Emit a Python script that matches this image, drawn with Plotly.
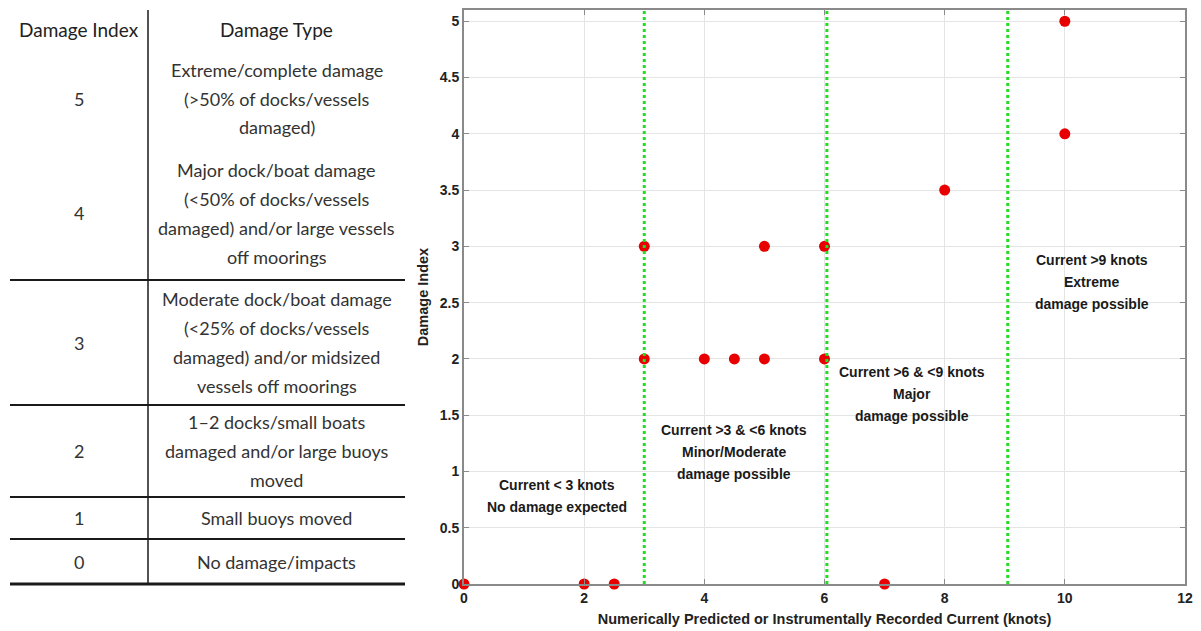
import plotly.graph_objects as go

# ---------------- data ----------------
damage_index = [5, 4, 3, 2, 1, 0]
damage_type = [
    ["Extreme/complete damage", "(>50% of docks/vessels", "damaged)"],
    ["Major dock/boat damage", "(<50% of docks/vessels", "damaged) and/or large vessels", "off moorings"],
    ["Moderate dock/boat damage", "(<25% of docks/vessels", "damaged) and/or midsized", "vessels off moorings"],
    ["1\u20132 docks/small boats", "damaged and/or large buoys", "moved"],
    ["Small buoys moved"],
    ["No damage/impacts"],
]
table_header = ["Damage Index", "Damage Type"]

current_knots = [0, 2, 2.5, 3, 3, 4, 4.5, 5, 5, 6, 6, 7, 8, 10, 10]
observed_index = [0, 0, 0, 3, 2, 2, 2, 2, 3, 3, 2, 0, 3.5, 4, 5]

thresholds = [3.0, 6.04, 9.05]
zone_labels = [
    ["Current < 3 knots", "No damage expected"],
    ["Current >3 & <6 knots", "Minor/Moderate", "damage possible"],
    ["Current >6 & <9 knots", "Major", "damage possible"],
    ["Current >9 knots", "Extreme", "damage possible"],
]
zone_label_x = [1.55, 4.5, 7.45, 10.45]
zone_label_top_y = [0.88, 1.37, 1.88, 2.88]

W, H = 1201, 631
Y0PX, Y1PX = 584, 10
YMAX = 5.1


def px(x):
    return x / W


def py(y):
    return 1 - y / H


fig = go.Figure()

fig.add_trace(go.Scatter(
    x=current_knots, y=observed_index, mode="markers",
    marker=dict(color="#e80000", size=11, line=dict(width=0)),
    cliponaxis=False, showlegend=False, hoverinfo="x+y",
))

for t in thresholds:
    fig.add_vline(x=t, line=dict(color="#22dd22", width=3, dash="dot"))

annotations = []
zfont = dict(family="Liberation Sans", size=14, color="#1a1a1a", weight="bold")
unit_px = (Y0PX - Y1PX) / YMAX
for lines, xx, ytop in zip(zone_labels, zone_label_x, zone_label_top_y):
    for k, ln in enumerate(lines):
        annotations.append(dict(
            x=xx, y=ytop - k * 22 / unit_px, xref="x", yref="y", text=ln, showarrow=False,
            font=zfont, xanchor="center", yanchor="middle",
        ))

# ---------------- table ----------------
tfont = dict(family="Lato", size=18, color="#333333")
hfont = dict(family="Lato", size=19, color="#222222")
t_left, t_right, t_div = 10, 405, 148
t_lines = [10, 50, 147, 280, 405, 497, 539, 584]
t_widths = [2.2, 2.6, 1.8, 1.8, 1.8, 1.8, 1.8, 3.0]
shapes = []
for yl, wl in zip(t_lines, t_widths):
    shapes.append(dict(type="line", xref="paper", yref="paper",
                       x0=px(t_left), x1=px(t_right), y0=py(yl), y1=py(yl),
                       line=dict(color="#1a1a1a", width=wl)))
shapes.append(dict(type="line", xref="paper", yref="paper",
                   x0=px(t_div), x1=px(t_div), y0=py(t_lines[0]), y1=py(t_lines[-1]),
                   line=dict(color="#1a1a1a", width=1.5)))

idx_cx = (t_left + t_div) / 2
typ_cx = (t_div + t_right) / 2
hdr_cy = (t_lines[0] + t_lines[1]) / 2
annotations.append(dict(x=px(idx_cx), y=py(hdr_cy), xref="paper", yref="paper",
                        text=table_header[0], showarrow=False, font=hfont,
                        xanchor="center", yanchor="middle"))
annotations.append(dict(x=px(typ_cx), y=py(hdr_cy), xref="paper", yref="paper",
                        text=table_header[1], showarrow=False, font=hfont,
                        xanchor="center", yanchor="middle"))
line_h = 28.7
for i, (di, lines) in enumerate(zip(damage_index, damage_type)):
    top, bot = t_lines[i + 1], t_lines[i + 2]
    cy = (top + bot) / 2
    annotations.append(dict(x=px(idx_cx), y=py(cy), xref="paper", yref="paper",
                            text=str(di), showarrow=False, font=tfont,
                            xanchor="center", yanchor="middle"))
    n = len(lines)
    for k, ln in enumerate(lines):
        yy = cy + (k - (n - 1) / 2) * line_h
        annotations.append(dict(x=px(typ_cx), y=py(yy), xref="paper", yref="paper",
                                text=ln, showarrow=False, font=tfont,
                                xanchor="center", yanchor="middle"))

axis_font = dict(family="Liberation Sans", size=14, color="#222222", weight="bold")
title_font = dict(family="Liberation Sans", size=14.5, color="#222222", weight="bold")
fig.update_layout(
    width=W, height=H,
    margin=dict(l=0, r=0, t=0, b=0, autoexpand=False),
    paper_bgcolor="white", plot_bgcolor="white",
    shapes=shapes, annotations=annotations,
    xaxis=dict(
        domain=[px(464), px(1185)], range=[0, 12], dtick=2,
        showgrid=True, gridcolor="#e4e4e4", gridwidth=1,
        zeroline=False, showline=True, linecolor="#8a8a8a", linewidth=2,
        mirror="ticks", ticks="inside", ticklen=5, tickcolor="#8a8a8a",
        tickfont=axis_font, automargin=False,
        title=dict(text="Numerically Predicted or Instrumentally Recorded Current (knots)",
                   font=title_font, standoff=9),
    ),
    yaxis=dict(
        domain=[py(Y0PX), py(Y1PX)], range=[0, YMAX], dtick=0.5,
        showgrid=True, gridcolor="#e4e4e4", gridwidth=1,
        zeroline=False, showline=True, linecolor="#8a8a8a", linewidth=2,
        mirror="ticks", ticks="inside", ticklen=5, tickcolor="#8a8a8a",
        tickfont=axis_font, automargin=False,
        title=dict(text="Damage Index", font=title_font, standoff=8),
    ),
)

fig.write_html(
    "out.html",
    config={"displayModeBar": False},
    post_script="document.body.style.margin='0';document.body.style.overflow='hidden';",
)
